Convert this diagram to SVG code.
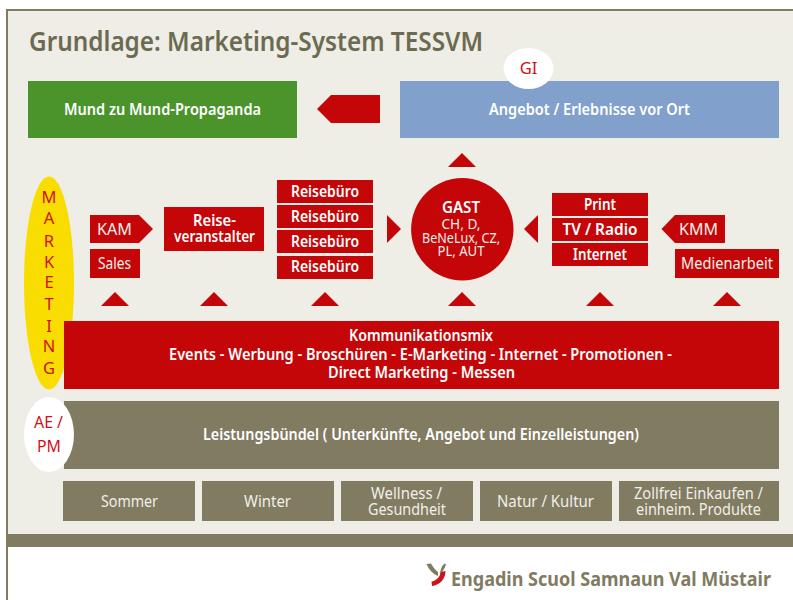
<svg xmlns="http://www.w3.org/2000/svg" width="793" height="600" viewBox="0 0 793 600">
<style>
text{font-family:"Noto Sans","Open Sans","Liberation Sans",sans-serif;text-anchor:middle}
.r{fill:#C40608}.k{fill:#817B62}
.b{font-weight:600;fill:#fff;font-size:15.5px}
.l{fill:#F0EFE8;font-size:16px}
.t{fill:#D01018;font-size:16.5px}
</style>
<rect width="793" height="600" fill="#fff"/>
<g id="frame">
<rect x="6" y="9" width="787" height="2" fill="#817B62"/>
<rect x="6" y="9" width="2" height="591" fill="#817B62"/>
<rect x="8" y="11" width="785" height="523" fill="#EEEDE6"/>
<rect x="7" y="534" width="786" height="13" fill="#817B62"/>
</g>
<text id="title" x="256" y="51" style="font-weight:600;font-size:26.5px;fill:#6C6A50" textLength="454" lengthAdjust="spacingAndGlyphs">Grundlage: Marketing-System TESSVM</text>
<g id="connectors" class="r">
<polygon points="317,109 331,95 380,95 380,123 331,123"/>
<polygon points="448,167 476,167 462,153"/>
<polygon points="387,215 401,229 387,243"/>
<polygon points="524,229 538,215 538,243"/>
<polygon points="101,306 129,306 115,292"/>
<polygon points="200,306 228,306 214,292"/>
<polygon points="311,306 339,306 325,292"/>
<polygon points="448,306 476,306 462,292"/>
<polygon points="586,306 614,306 600,292"/>
<polygon points="713,306 741,306 727,292"/>
</g>
<g id="mund"><rect x="28" y="81" width="269" height="57" fill="#4B942B"/><text class="b" x="162.500" y="115" textLength="197" lengthAdjust="spacingAndGlyphs">Mund zu Mund-Propaganda</text></g>
<g id="angebot"><rect x="400" y="81" width="379" height="57" fill="#82A0CC"/><text class="b" x="589.500" y="115" textLength="201" lengthAdjust="spacingAndGlyphs">Angebot / Erlebnisse vor Ort</text></g>
<g id="gi"><ellipse cx="528.500" cy="68.500" rx="25" ry="20.500" fill="#fff"/><text class="t" x="528.500" y="73.500">GI</text></g>
<g id="marketing"><ellipse cx="49" cy="283" rx="25" ry="106.500" fill="#F9DD00"/>
<text class="t" x="49" y="203">M</text><text class="t" x="49" y="224">A</text><text class="t" x="49" y="247">R</text><text class="t" x="49" y="268">K</text><text class="t" x="49" y="288">E</text><text class="t" x="49" y="310">T</text><text class="t" x="49" y="332">I</text><text class="t" x="49" y="352">N</text><text class="t" x="49" y="374">G</text></g>
<g id="kam"><polygon class="r" points="90,215 139,215 153,229 139,243 90,243"/><text class="l" x="114.500" y="235" textLength="35" lengthAdjust="spacingAndGlyphs">KAM</text></g>
<g id="sales"><rect class="r" x="90" y="249" width="50" height="29"/><text class="l" x="114.500" y="269" textLength="33" lengthAdjust="spacingAndGlyphs">Sales</text></g>
<g id="reiseveranstalter"><rect class="r" x="164" y="207" width="100" height="44"/><text class="b" x="214.500" y="226"><tspan x="214.500" textLength="43" lengthAdjust="spacingAndGlyphs">Reise-</tspan><tspan x="214.500" dy="16" textLength="81" lengthAdjust="spacingAndGlyphs">veranstalter</tspan></text></g>
<g id="rb1"><rect class="r" x="277" y="180" width="96" height="23"/><text class="b" x="325" y="197" textLength="68" lengthAdjust="spacingAndGlyphs">Reisebüro</text></g>
<g id="rb2"><rect class="r" x="277" y="205" width="96" height="23"/><text class="b" x="325" y="222" textLength="68" lengthAdjust="spacingAndGlyphs">Reisebüro</text></g>
<g id="rb3"><rect class="r" x="277" y="230" width="96" height="23"/><text class="b" x="325" y="247" textLength="68" lengthAdjust="spacingAndGlyphs">Reisebüro</text></g>
<g id="rb4"><rect class="r" x="277" y="256" width="96" height="23"/><text class="b" x="325" y="272" textLength="68" lengthAdjust="spacingAndGlyphs">Reisebüro</text></g>
<g id="gast"><circle class="r" cx="462.300" cy="229.300" r="51.200"/>
<text x="461" y="213" style="font-size:15.500px;font-weight:600;fill:#fff" textLength="38" lengthAdjust="spacingAndGlyphs">GAST</text>
<text style="fill:#F0EFE8;font-size:13.500px" y="229"><tspan x="461" textLength="39" lengthAdjust="spacingAndGlyphs">CH, D,</tspan><tspan x="461" dy="13.500" textLength="78" lengthAdjust="spacingAndGlyphs">BeNeLux, CZ,</tspan><tspan x="461" dy="13.500" textLength="47" lengthAdjust="spacingAndGlyphs">PL, AUT</tspan></text></g>
<g id="print"><rect class="r" x="552" y="193" width="96" height="23"/><text class="b" x="600" y="210" textLength="32" lengthAdjust="spacingAndGlyphs">Print</text></g>
<g id="tv"><rect class="r" x="552" y="218" width="96" height="23"/><text class="b" x="600" y="235" textLength="75" lengthAdjust="spacingAndGlyphs">TV / Radio</text></g>
<g id="internet"><rect class="r" x="552" y="243" width="96" height="23"/><text class="b" x="600" y="260" textLength="54" lengthAdjust="spacingAndGlyphs">Internet</text></g>
<g id="kmm"><polygon class="r" points="661.500,229 675,215 725,215 725,243 675,243"/><text class="l" x="698.500" y="235" textLength="39" lengthAdjust="spacingAndGlyphs">KMM</text></g>
<g id="medienarbeit"><rect class="r" x="675" y="249" width="104" height="29"/><text class="l" x="727" y="269" textLength="92" lengthAdjust="spacingAndGlyphs">Medienarbeit</text></g>
<g id="kommunikation"><rect class="r" x="64" y="321" width="715" height="68"/>
<text class="b" y="341"><tspan x="421" textLength="144" lengthAdjust="spacingAndGlyphs">Kommunikationsmix</tspan><tspan x="420.500" dy="19" textLength="503" lengthAdjust="spacingAndGlyphs">Events - Werbung - Broschüren - E-Marketing - Internet - Promotionen -</tspan><tspan x="421.500" dy="18" textLength="187" lengthAdjust="spacingAndGlyphs">Direct Marketing - Messen</tspan></text></g>
<g id="leistung"><rect class="k" x="64" y="401" width="715" height="68"/><text class="b" x="421" y="440" textLength="436" lengthAdjust="spacingAndGlyphs">Leistungsbündel ( Unterkünfte, Angebot und Einzelleistungen)</text></g>
<g id="ae"><ellipse cx="49" cy="434.500" rx="25" ry="37.500" fill="#fff"/><text class="t" y="428"><tspan x="48.500" textLength="29" lengthAdjust="spacingAndGlyphs">AE /</tspan><tspan x="49" dy="24" textLength="24" lengthAdjust="spacingAndGlyphs">PM</tspan></text></g>
<g id="sommer"><rect class="k" x="63" y="481" width="132" height="40"/><text class="l" x="129.500" y="507" textLength="57" lengthAdjust="spacingAndGlyphs">Sommer</text></g>
<g id="winter"><rect class="k" x="202" y="481" width="132" height="40"/><text class="l" x="267.500" y="507" textLength="47" lengthAdjust="spacingAndGlyphs">Winter</text></g>
<g id="wellness"><rect class="k" x="341" y="481" width="132" height="40"/><text class="l" y="499"><tspan x="406.500" textLength="71" lengthAdjust="spacingAndGlyphs">Wellness /</tspan><tspan x="407" dy="16" textLength="78" lengthAdjust="spacingAndGlyphs">Gesundheit</tspan></text></g>
<g id="natur"><rect class="k" x="480" y="481" width="132" height="40"/><text class="l" x="545.500" y="507" textLength="97" lengthAdjust="spacingAndGlyphs">Natur / Kultur</text></g>
<g id="zollfrei"><rect class="k" x="619" y="481" width="160" height="40"/><text class="l" y="499"><tspan x="698.500" textLength="129" lengthAdjust="spacingAndGlyphs">Zollfrei Einkaufen /</tspan><tspan x="698.500" dy="16" textLength="125" lengthAdjust="spacingAndGlyphs">einheim. Produkte</tspan></text></g>
<g id="logo">
<path d="M426.500,564 L431,563.500 C433,567 435,570 438,572 L438,576 C433,574 429,570 426.500,564Z" fill="#817B62"/>
<path d="M440,573 C441,568 442,565 445,563.500 L446,564.500 C445,568 443,571 440,575Z" fill="#817B62"/>
<path d="M441,572 L445.500,571 C445.500,579 440,585 432,586 L431.500,581.500 C436,581 440,577 441,572Z" fill="#C8141C"/>
<text x="611" y="586" textLength="320" lengthAdjust="spacingAndGlyphs" style="font-weight:700;font-size:19px;fill:#817B62">Engadin Scuol Samnaun Val Müstair</text>
</g>
</svg>
